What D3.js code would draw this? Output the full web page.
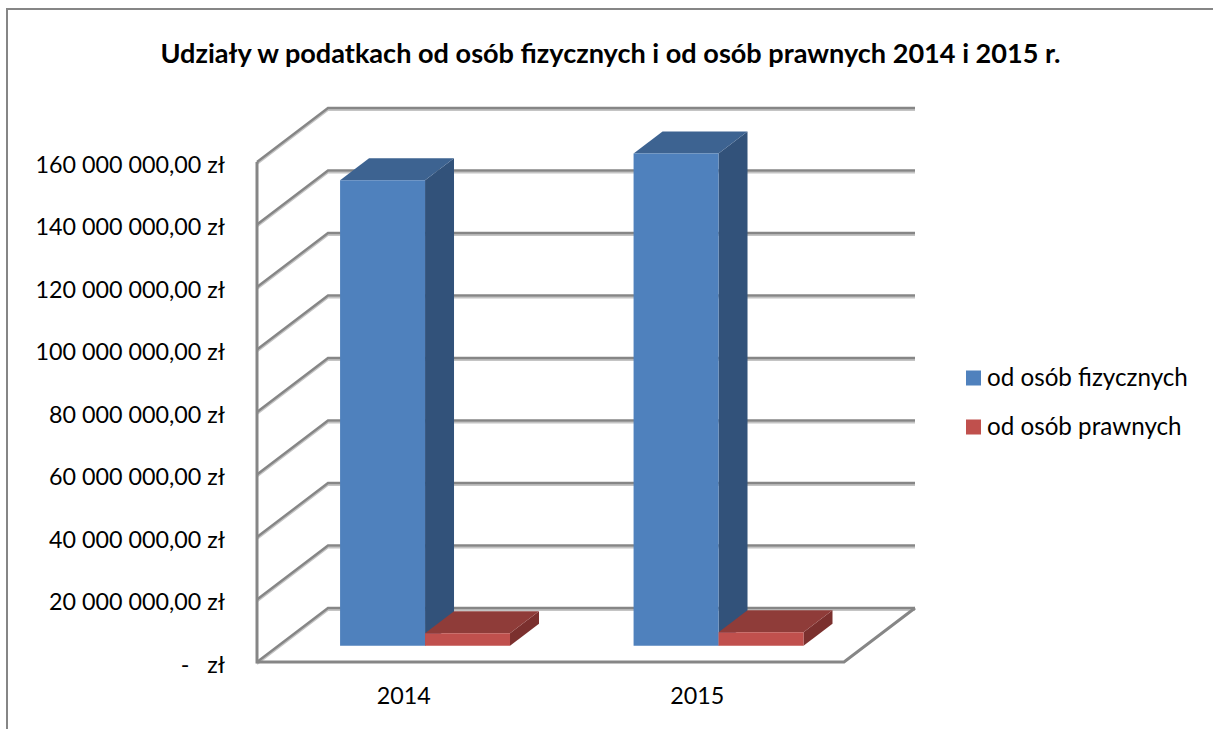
<!DOCTYPE html>
<html>
<head>
<meta charset="utf-8">
<script src="https://cdn.jsdelivr.net/npm/d3@7"></script>
<style>
html, body { margin: 0; padding: 0; background: #fff; overflow: hidden; }
text { font-family: Lato, "Open Sans", sans-serif; fill: #000; }
</style>
</head>
<body>
<div id="chart"></div>
<script>
const years = ['2014', '2015'];
const seriesNames = ['od osób fizycznych', 'od osób prawnych'];
const fizycznych = [149000000, 157500000];
const prawnych = [4000000, 4300000];
const seriesValues = [fizycznych, prawnych];
const tickValues = [0, 20000000, 40000000, 60000000, 80000000, 100000000, 120000000, 140000000, 160000000];
const titleText = 'Udziały w podatkach od osób fizycznych i od osób prawnych 2014 i 2015 r.';

const WIDTH = 1213, HEIGHT = 729;
const DEPTH_X = 71, DEPTH_Y = 54;
const BAR_FRONT = 0.3, BAR_BACK = 0.708;

const faces = [
    { front: '#4f81bd', top: '#3d6391', side: '#32527a' },
    { front: '#c0504d', top: '#8f3c39', side: '#7b302e' }
];

const svg = d3.select('#chart').append('svg')
    .attr('width', WIDTH)
    .attr('height', HEIGHT);

// outer frame runs off the right and bottom edge
svg.append('path')
    .attr('d', 'M7,729V9H1213')
    .attr('fill', 'none')
    .attr('stroke', '#868686')
    .attr('stroke-width', 2);

svg.append('text')
    .attr('x', 610.5)
    .attr('y', 63)
    .attr('text-anchor', 'middle')
    .attr('font-size', 27.1)
    .attr('font-weight', 700)
    .text(titleText);

const y = d3.scaleLinear().domain([0, 160000000]).range([662, 162]);
const x0 = d3.scaleBand().domain(years).range([257, 844]);
const x1 = d3.scaleBand().domain(seriesNames).range([0, x0.bandwidth()]).paddingInner(0).paddingOuter(0.727);

// front plane position -> position at a given depth (0 front, 1 back wall)
const pt = (px, v, d) => [px + d * DEPTH_X, y(v) - d * DEPTH_Y];
const poly = pts => pts.map(p => p.join(',')).join(' ');

const grid = svg.append('g').attr('fill', 'none');

function wallLine(v, color, width, shift) {
    const a = pt(257, v, 0), b = pt(257, v, 1), c = pt(844, v, 1);
    grid.append('polyline')
        .attr('points', poly([[a[0], a[1] + shift], [b[0], b[1] + shift], [c[0], c[1] + shift]]))
        .attr('stroke', color)
        .attr('stroke-width', width);
}
tickValues.forEach(v => wallLine(v, '#c4c4c4', 2, 2));
tickValues.forEach(v => wallLine(v, '#868686', 2.4, 0));

// left edge and floor
grid.append('polyline')
    .attr('points', poly([pt(257, 160000000, 0), pt(257, 0, 0), pt(844, 0, 0), pt(844, 0, 1)]))
    .attr('stroke', '#868686')
    .attr('stroke-width', 3);

// bars, year by year so the red slab overlaps the blue side
const bars = svg.append('g');
years.forEach((year, i) => {
    seriesNames.forEach((name, s) => {
        const v = seriesValues[s][i];
        const left = x0(year) + x1(name);
        const right = left + x1.bandwidth();
        const g = bars.append('g');
        g.append('polygon')
            .attr('points', poly([pt(right, 0, BAR_FRONT), pt(right, 0, BAR_BACK), pt(right, v, BAR_BACK), pt(right, v, BAR_FRONT)]))
            .attr('fill', faces[s].side);
        g.append('polygon')
            .attr('points', poly([pt(left, v, BAR_FRONT), pt(left, v, BAR_BACK), pt(right, v, BAR_BACK), pt(right, v, BAR_FRONT)]))
            .attr('fill', faces[s].top);
        g.append('polygon')
            .attr('points', poly([pt(left, 0, BAR_FRONT), pt(right, 0, BAR_FRONT), pt(right, v, BAR_FRONT), pt(left, v, BAR_FRONT)]))
            .attr('fill', faces[s].front);
    });
});

const plLocale = d3.formatLocale({ decimal: ',', thousands: ' ', grouping: [3], currency: ['', ' zł'] });
const money = plLocale.format(',.2f');

const yAxis = d3.axisLeft(y)
    .tickValues(tickValues)
    .tickSize(0)
    .tickPadding(0)
    .tickFormat(d => d === 0 ? '-\u00a0\u00a0\u00a0zł' : money(d) + ' zł');

svg.append('g')
    .attr('transform', 'translate(225,3)')
    .call(yAxis)
    .call(g => g.select('.domain').remove())
    .selectAll('text')
    .attr('font-size', 23.3)
    .attr('font-family', 'Lato, "Open Sans", sans-serif')
    .attr('fill', '#000');

const xAxis = d3.axisBottom(x0).tickSize(0).tickPadding(0);
svg.append('g')
    .attr('transform', 'translate(0,687)')
    .call(xAxis)
    .call(g => g.select('.domain').remove())
    .selectAll('text')
    .attr('font-size', 23.3)
    .attr('font-family', 'Lato, "Open Sans", sans-serif')
    .attr('fill', '#000');

const legendY = d3.scalePoint().domain(seriesNames).range([378, 427]);
const legend = svg.append('g').selectAll('g').data(seriesNames).join('g')
    .attr('transform', d => `translate(966,${legendY(d)})`);
legend.append('rect')
    .attr('y', -7.5)
    .attr('width', 15)
    .attr('height', 15)
    .attr('fill', (d, i) => faces[i].front);
legend.append('text')
    .attr('x', 21)
    .attr('y', 7.5)
    .attr('font-size', 24.2)
    .text(d => d);
</script>
</body>
</html>
